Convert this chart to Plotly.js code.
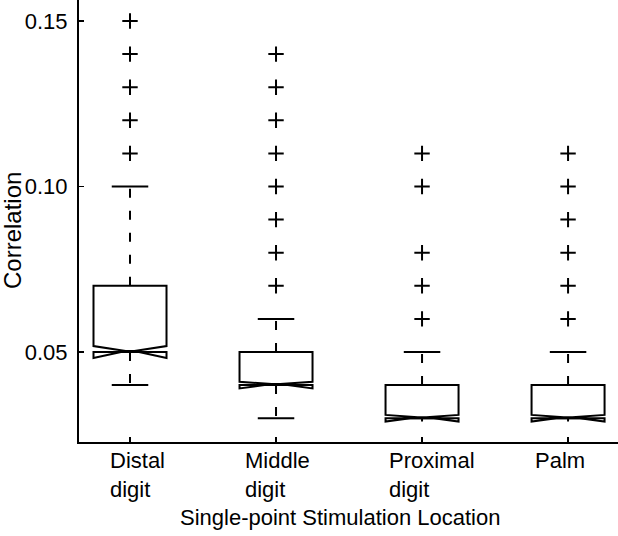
<!DOCTYPE html>
<html>
<head>
<meta charset="utf-8">
<script src="https://cdn.plot.ly/plotly-3.0.1.min.js"></script>
<style>
  html, body { margin: 0; padding: 0; background: #fff; }
  #chart { width: 618px; height: 536px; }
</style>
</head>
<body>
<div id="chart"></div>
<script>
// ---- data ----
var categories   = ['Distal<br>digit', 'Middle<br>digit', 'Proximal<br>digit', 'Palm'];
var positions    = [1, 2, 3, 4];
var q1Values     = [0.05, 0.04, 0.03, 0.03];
var medianValues = [0.05, 0.04, 0.03, 0.03];
var q3Values     = [0.07, 0.05, 0.04, 0.04];
var notchSpans   = [0.0018, 0.001, 0.001, 0.001];
var whiskerLow   = [0.04, 0.03, 0.03, 0.03];
var whiskerHigh  = [0.10, 0.06, 0.05, 0.05];
var outliers = [
  [0.11, 0.12, 0.13, 0.14, 0.15],
  [0.07, 0.08, 0.09, 0.10, 0.11, 0.12, 0.13, 0.14],
  [0.06, 0.07, 0.08, 0.10, 0.11],
  [0.06, 0.07, 0.08, 0.09, 0.10, 0.11]
];
var yTickValues = [0.05, 0.10, 0.15];
var yTickLabels = ['0.05', '0.10', '0.15'];
var xTitle = 'Single-point Stimulation Location';
var yTitle = 'Correlation';

// ---- styling ----
var FONT = 'Liberation Sans, Arial, Helvetica, sans-serif';
var BOX_WIDTH = 0.5;
var CAP_HALF = 0.125;

// box bodies (precomputed statistics)
var boxTrace = {
  type: 'box',
  x: positions,
  q1: q1Values,
  median: medianValues,
  q3: q3Values,
  lowerfence: q1Values,
  upperfence: q3Values,
  notchspan: notchSpans,
  notched: true,
  notchwidth: 0.44,
  width: BOX_WIDTH,
  whiskerwidth: 0,
  boxpoints: false,
  fillcolor: 'rgba(255,255,255,1)',
  line: { color: '#000', width: 2 },
  hoverinfo: 'skip',
  showlegend: false
};

// dashed whiskers and solid caps
var wx = [], wy = [];
var cx = [], cy = [];
positions.forEach(function (p, i) {
  wx.push(p, p, null); wy.push(q3Values[i], whiskerHigh[i], null);
  wx.push(p, p, null); wy.push(q1Values[i], whiskerLow[i], null);
  cx.push(p - CAP_HALF, p + CAP_HALF, null); cy.push(whiskerHigh[i], whiskerHigh[i], null);
  cx.push(p - CAP_HALF, p + CAP_HALF, null); cy.push(whiskerLow[i], whiskerLow[i], null);
});
var whiskerTrace = {
  type: 'scatter', mode: 'lines', x: wx, y: wy,
  line: { color: '#000', width: 2, dash: '9px,13px' },
  hoverinfo: 'skip', showlegend: false
};
var capTrace = {
  type: 'scatter', mode: 'lines', x: cx, y: cy,
  line: { color: '#000', width: 2 },
  hoverinfo: 'skip', showlegend: false
};

// outliers
var ox = [], oy = [];
outliers.forEach(function (arr, i) {
  arr.forEach(function (v) { ox.push(positions[i]); oy.push(v); });
});
var outlierTrace = {
  type: 'scatter', mode: 'markers', x: ox, y: oy,
  marker: { symbol: 'cross-thin', size: 11, line: { color: '#000', width: 2 }, color: '#000' },
  hoverinfo: 'skip', showlegend: false
};

// category labels as annotations (left-aligned lines like MATLAB)
var labelShifts = [-22, -33, -35, -35];
var annotations = categories.map(function (c, i) {
  return {
    x: positions[i], xref: 'x', y: 0, yref: 'paper',
    xanchor: 'left', yanchor: 'top', xshift: labelShifts[i], yshift: -4,
    text: c, align: 'left', showarrow: false,
    font: { family: FONT, size: 22, color: '#000' }
  };
});
annotations.push({
  x: 0.4842, xref: 'paper', y: 0, yref: 'paper',
  xanchor: 'center', yanchor: 'top', yshift: -61,
  text: xTitle, showarrow: false,
  font: { family: FONT, size: 22, color: '#000' }
});
annotations.push({
  x: 0, xref: 'paper', y: 0.4774, yref: 'paper',
  xanchor: 'center', yanchor: 'middle', xshift: -66,
  text: yTitle, textangle: -90, showarrow: false,
  font: { family: FONT, size: 24, color: '#000' }
});

var layout = {
  width: 618, height: 536,
  margin: { l: 79, r: 0, t: 0, b: 94, pad: 0 },
  paper_bgcolor: '#fff', plot_bgcolor: '#fff',
  showlegend: false,
  font: { family: FONT, color: '#000' },
  xaxis: {
    range: [0.6507, 4.342],
    tickmode: 'array', tickvals: positions, showticklabels: false,
    ticks: 'inside', ticklen: 5, tickwidth: 1.5, tickcolor: '#000',
    showline: true, linecolor: '#000', linewidth: 2,
    showgrid: false, zeroline: false, fixedrange: true
  },
  yaxis: {
    range: [0.02281, 0.15634],
    tickmode: 'array', tickvals: yTickValues, ticktext: yTickLabels,
    ticks: 'inside', ticklen: 5, tickwidth: 1.5, tickcolor: '#000',
    ticklabelstandoff: 5,
    tickfont: { family: FONT, size: 22, color: '#000' },
    showline: true, linecolor: '#000', linewidth: 2,
    showgrid: false, zeroline: false, fixedrange: true
  },
  annotations: annotations
};

Plotly.newPlot('chart', [boxTrace, whiskerTrace, capTrace, outlierTrace], layout, { staticPlot: true, displayModeBar: false });
</script>
</body>
</html>
